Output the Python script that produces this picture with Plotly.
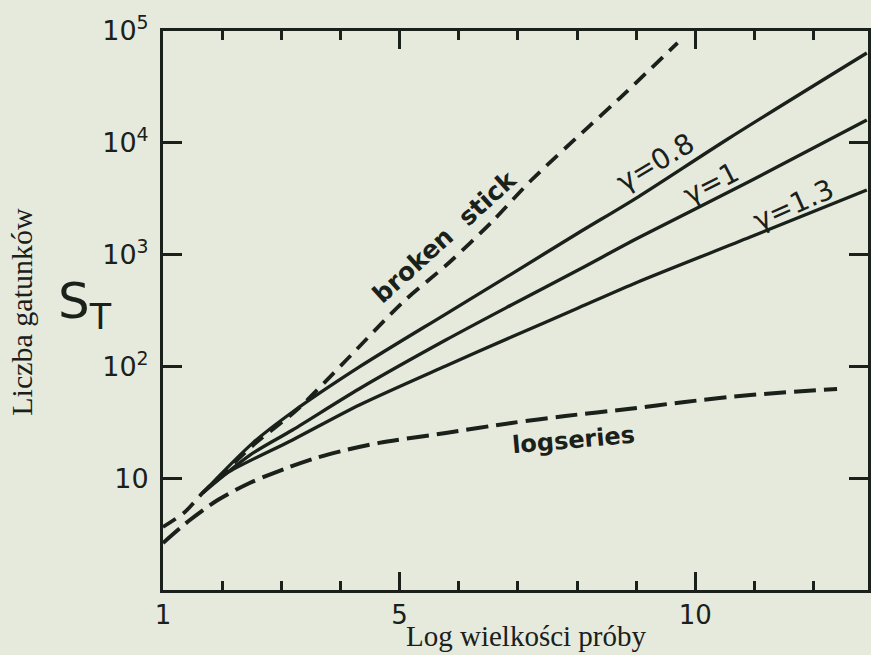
import plotly.graph_objects as go

# Log of sample size (x) and expected number of species S_T (y, log scale)
bs_x = [1.0, 1.37, 1.67, 2.58, 3.26, 4.10, 5.04, 5.83, 6.56, 7.23, 8.19, 8.69, 9.70]
bs_s = [3.66, 4.99, 7.38, 20.9, 40.7, 114, 369, 841, 1959, 4645, 13836, 24155, 78163]

g08_x = [1.67, 2.52, 3.19, 4.32, 5.78, 6.89, 8.02, 9.03, 10.55, 12.90]
g08_s = [7.38, 20.7, 39.1, 98.9, 294, 670, 1560, 3273, 10814, 63533]

g10_x = [1.67, 2.47, 3.19, 4.32, 5.78, 6.89, 8.02, 9.03, 10.93, 12.90]
g10_s = [7.38, 16.1, 27.0, 63.1, 172, 354, 728, 1406, 4550, 15996]

g13_x = [1.67, 2.08, 3.19, 4.32, 5.78, 6.89, 8.02, 9.03, 10.93, 12.90]
g13_s = [7.38, 11.1, 22.0, 45.2, 101, 183, 333, 569, 1436, 3784]

ls_x = [1.0, 1.455, 1.926, 2.465, 3.088, 3.593, 4.098, 4.653, 5.781, 6.892,
        7.801, 8.862, 9.822, 10.933, 12.397]
ls_s = [2.63, 4.23, 6.38, 9.06, 12.3, 15.2, 17.9, 20.7, 25.4, 31.2,
        36.0, 41.6, 48.1, 55.5, 62.8]

x_tickvals = [1, 5, 10]
x_ticktext = ["1", "5", "10"]
y_tickvals = [10, 100, 1000, 10000, 100000]
y_ticktext = ["10", "10<sup>2</sup>", "10<sup>3</sup>", "10<sup>4</sup>", "10<sup>5</sup>"]

INK = "#1a201a"
PAPER = "#e5eadd"
SANS = "DejaVu Sans"
SERIF = "Liberation Serif"

fig = go.Figure()

def add_line(x, y, dash, width):
    fig.add_trace(go.Scatter(
        x=x, y=y, mode="lines",
        line=dict(color=INK, width=width, dash=dash, shape="spline", smoothing=0.8),
        showlegend=False, hoverinfo="skip",
    ))

add_line(bs_x, bs_s, "15px,9px", 3.8)
add_line(g08_x, g08_s, "solid", 3.3)
add_line(g10_x, g10_s, "solid", 3.3)
add_line(g13_x, g13_s, "solid", 3.3)
add_line(ls_x, ls_s, "22px,8px", 4)

annotations = [
    dict(text="<b>broken  stick</b>", x=0.400, y=0.632, textangle=-42,
         font=dict(size=25, family=SANS, color=INK)),
    dict(text="γ=0.8", x=0.698, y=0.765, textangle=-31,
         font=dict(size=28, family=SANS, color=INK)),
    dict(text="γ=1", x=0.777, y=0.728, textangle=-27,
         font=dict(size=28, family=SANS, color=INK)),
    dict(text="γ=1.3", x=0.895, y=0.690, textangle=-24,
         font=dict(size=28, family=SANS, color=INK)),
    dict(text="<b>logseries</b>", x=0.582, y=0.268, textangle=-5,
         font=dict(size=24, family=SANS, color=INK)),
    dict(text="S<sub>T</sub>", x=-0.110, y=0.510,
         font=dict(size=50, family=SANS, color=INK)),
    dict(text="Liczba gatunków", x=-0.2006, y=0.497, textangle=-90,
         font=dict(size=30, family=SERIF, color=INK)),
    dict(text="Log wielkości próby", x=0.5155, y=-0.083,
         font=dict(size=29, family=SERIF, color=INK)),
]
for a in annotations:
    a.update(xref="paper", yref="paper", showarrow=False,
             xanchor="center", yanchor="middle")

fig.update_layout(
    width=871, height=655,
    margin=dict(l=163, r=0, t=31, b=65),
    paper_bgcolor=PAPER, plot_bgcolor=PAPER,
    annotations=annotations,
    xaxis=dict(
        range=[1, 12.92], showgrid=False, zeroline=False,
        showline=True, linecolor=INK, linewidth=3, mirror="ticks",
        ticks="inside", ticklen=18, tickwidth=3, tickcolor=INK,
        tickvals=x_tickvals, ticktext=x_ticktext,
        tickfont=dict(family=SANS, size=26, color=INK),
        ticklabelstandoff=0,
        minor=dict(ticks="inside", ticklen=9, tickwidth=3, tickcolor=INK,
                   dtick=1, tick0=0),
    ),
    yaxis=dict(
        type="log", range=[0, 5], showgrid=False, zeroline=False,
        showline=True, linecolor=INK, linewidth=3, mirror="ticks",
        ticks="inside", ticklen=19, tickwidth=3, tickcolor=INK,
        tickvals=y_tickvals, ticktext=y_ticktext,
        tickfont=dict(family=SANS, size=27, color=INK),
        ticklabelstandoff=6,
    ),
)

fig.write_html("out.html")
